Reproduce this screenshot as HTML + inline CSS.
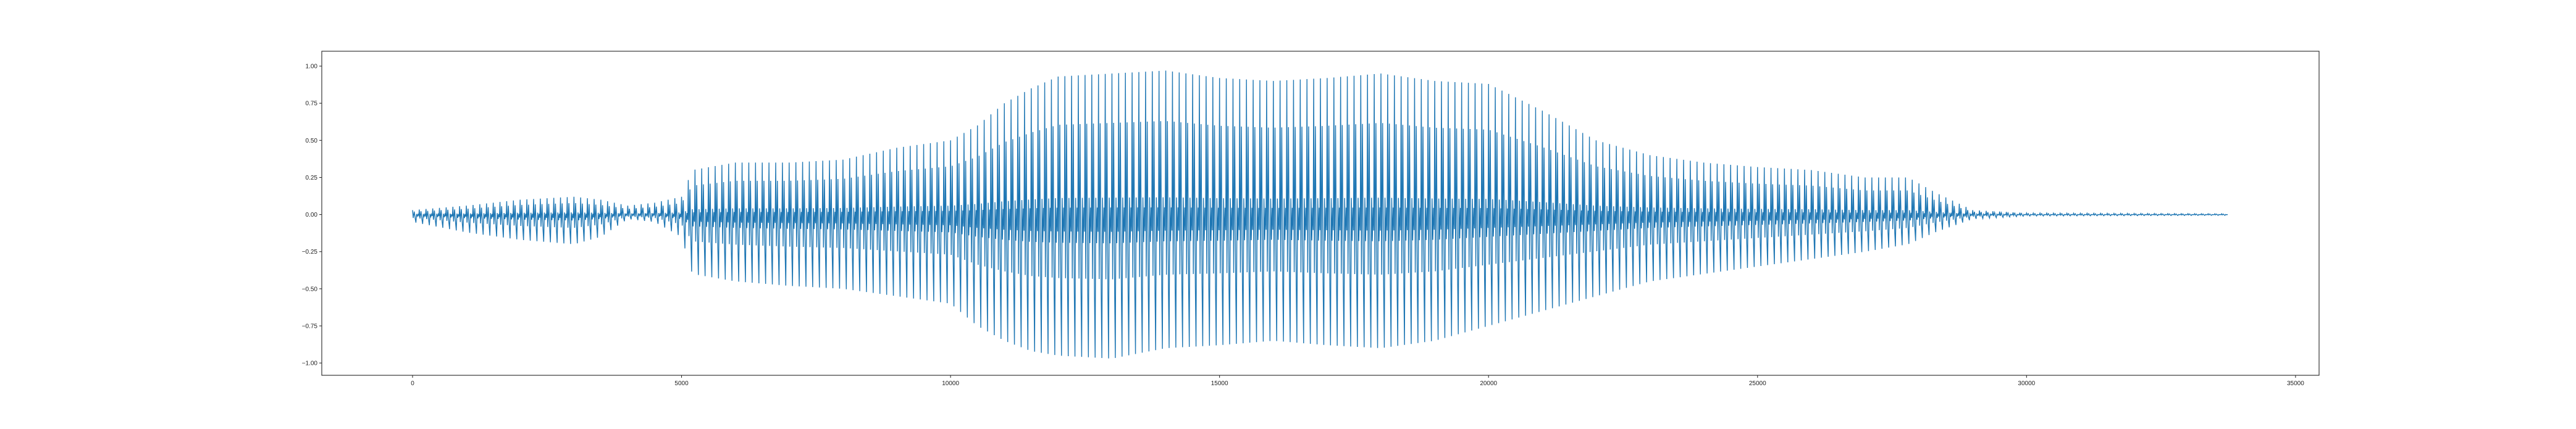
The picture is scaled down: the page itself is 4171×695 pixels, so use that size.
<!DOCTYPE html>
<html><head><meta charset="utf-8"><style>
html,body{margin:0;padding:0;background:#fff;}
svg{display:block;font-family:"Liberation Sans","DejaVu Sans",sans-serif;}
</style></head><body>
<svg id="chart" width="4171" height="695" viewBox="0 0 4171 695" xmlns="http://www.w3.org/2000/svg">
<rect x="0" y="0" width="4171" height="695" fill="#fff"/>
<g id="plot"></g>
<g id="axes"></g>
</svg>
<script>
// sample positions of envelope readings
const envSamples = [0,1000,2000,3000,3500,4000,4500,5000,5200,6000,7000,8000,9000,10000,10500,11000,11500,12000,13000,14000,15000,16000,17000,18000,19000,20000,21000,22000,23000,24000,25000,26000,27000,27800,28300,29000,30000,33750];
const envUpper = [0.03,0.06,0.10,0.12,0.10,0.06,0.08,0.12,0.30,0.35,0.35,0.37,0.45,0.50,0.60,0.75,0.85,0.93,0.95,0.97,0.92,0.90,0.92,0.95,0.90,0.88,0.70,0.50,0.40,0.35,0.32,0.30,0.25,0.25,0.15,0.03,0.01,0.005];
const envLower = [-0.05,-0.12,-0.17,-0.20,-0.15,-0.03,-0.05,-0.15,-0.40,-0.45,-0.48,-0.50,-0.55,-0.60,-0.75,-0.85,-0.92,-0.95,-0.97,-0.90,-0.88,-0.85,-0.88,-0.90,-0.85,-0.75,-0.65,-0.55,-0.45,-0.40,-0.35,-0.30,-0.25,-0.20,-0.12,-0.03,-0.01,-0.005];
const xTicks = [0,5000,10000,15000,20000,25000,30000,35000];
const yTicks = [-1.00,-0.75,-0.50,-0.25,0.00,0.25,0.50,0.75,1.00];
const yTickLabels = ["\u22121.00","\u22120.75","\u22120.50","\u22120.25","0.00","0.25","0.50","0.75","1.00"];

const L=521,R=3755,T=83,B=608;
const xMin=-1687.5,xMax=35437.5;
const yZeroPx=347.6, yPxPerUnit=240.5;
function xs(v){return L+(v-xMin)/(xMax-xMin)*(R-L);}
function ys(v){return yZeroPx - v*yPxPerUnit;}
function env(arr,s){
  for(let i=0;i<envSamples.length-1;i++){
    if(s<=envSamples[i+1]){const t=(s-envSamples[i])/(envSamples[i+1]-envSamples[i]);return arr[i]+(arr[i+1]-arr[i])*t;}
  }
  return arr[arr.length-1];
}
const NS="http://www.w3.org/2000/svg";
const plot=document.getElementById('plot');
// waveform shape per pitch period (rendering template)
const period=125;
const shape=[[0,'u',1],[0.1,'l',0.45],[0.25,'u',0.65],[0.4,'l',0.55],[0.5,'l',1],[0.6,'u',0.12],[0.72,'l',0.2],[0.82,'u',0.05],[0.92,'l',0.12]];
let pts=[];
const end=envSamples[envSamples.length-1];
for(let c=0;c*period<end;c++){
  for(const [ph,side,k] of shape){
    const s=c*period+ph*period; if(s>end)break;
    const v=(side==='u'?env(envUpper,s):env(envLower,s))*k;
    pts.push(xs(s).toFixed(2)+','+ys(v).toFixed(2));
  }
}
const pl=document.createElementNS(NS,'polyline');
pl.setAttribute('points',pts.join(' '));
pl.setAttribute('fill','none');pl.setAttribute('stroke','#1f77b4');pl.setAttribute('stroke-width','1.4');


plot.appendChild(pl);

const axes=document.getElementById('axes');
const frame=document.createElementNS(NS,'rect');
frame.setAttribute('x',L);frame.setAttribute('y',T);frame.setAttribute('width',R-L);frame.setAttribute('height',B-T);
frame.setAttribute('fill','none');frame.setAttribute('stroke','#222');frame.setAttribute('stroke-width','1.1');


axes.appendChild(frame);
xTicks.forEach(v=>{
  const x=xs(v);
  const ln=document.createElementNS(NS,'line');
  ln.setAttribute('x1',x);ln.setAttribute('x2',x);ln.setAttribute('y1',B);ln.setAttribute('y2',B+4);ln.setAttribute('stroke','#222');
  
  
  axes.appendChild(ln);
  const tx=document.createElementNS(NS,'text');
  tx.setAttribute('x',x);tx.setAttribute('y',B+16);tx.setAttribute('text-anchor','middle');tx.setAttribute('font-size','10');tx.setAttribute('fill','#222');
  tx.textContent=String(v);
  
  
  axes.appendChild(tx);
});
yTicks.forEach((v,i)=>{
  const y=ys(v);
  const ln=document.createElementNS(NS,'line');
  ln.setAttribute('x1',L-4);ln.setAttribute('x2',L);ln.setAttribute('y1',y);ln.setAttribute('y2',y);ln.setAttribute('stroke','#222');
  
  
  axes.appendChild(ln);
  const tx=document.createElementNS(NS,'text');
  tx.setAttribute('x',L-7);tx.setAttribute('y',y+3.5);tx.setAttribute('text-anchor','end');tx.setAttribute('font-size','10');tx.setAttribute('fill','#222');
  tx.textContent=yTickLabels[i];
  
  
  axes.appendChild(tx);
});
</script>
</body></html>
